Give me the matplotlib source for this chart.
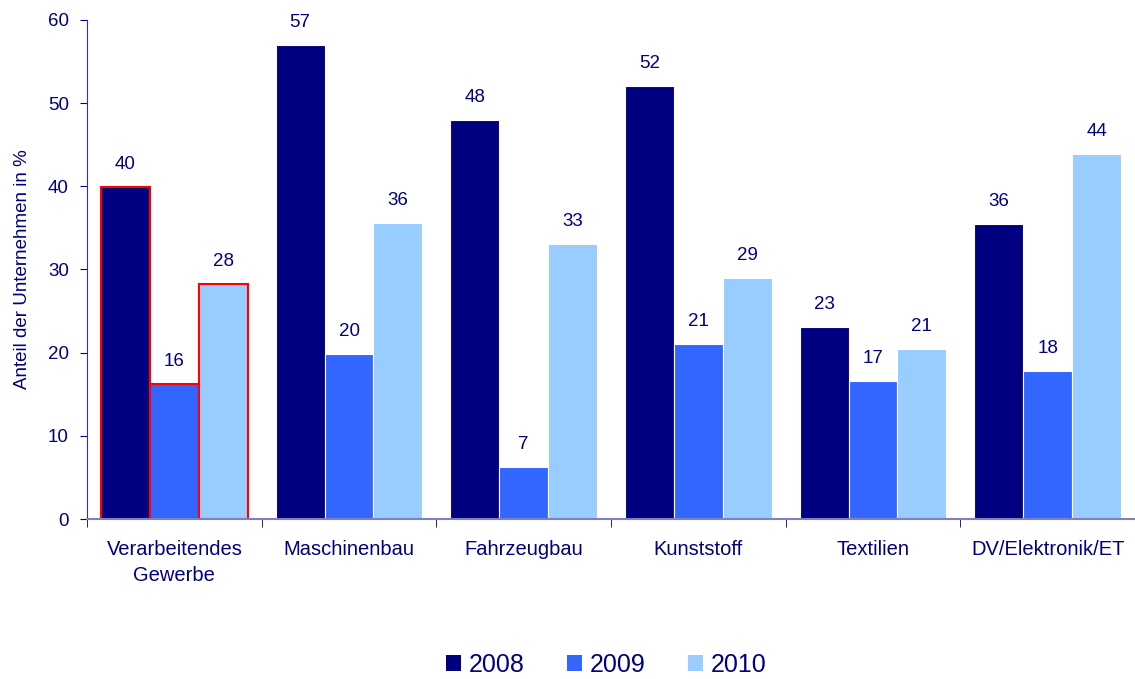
import numpy as np
import matplotlib.pyplot as plt
from matplotlib.patches import Patch

plt.rcParams['font.family'] = ['Liberation Sans', 'DejaVu Sans']

categories = ["Verarbeitendes\nGewerbe", "Maschinenbau", "Fahrzeugbau",
              "Kunststoff", "Textilien", "DV/Elektronik/ET"]
years = ["2008", "2009", "2010"]
v2008 = [39.9, 57.0, 48.0, 52.1, 23.1, 35.5]
v2009 = [16.2, 19.8, 6.3, 21.0, 16.6, 17.8]
v2010 = [28.3, 35.6, 33.1, 29.0, 20.4, 43.9]
labels2008 = [40, 57, 48, 52, 23, 36]
labels2009 = [16, 20, 7, 21, 17, 18]
labels2010 = [28, 36, 33, 29, 21, 44]

colors = ["#000080", "#3366FF", "#99CCFF"]
navy = "#000080"

fig = plt.figure(figsize=(11.35, 6.79), dpi=100)
ax = fig.add_axes([0.0767, 0.2356, 0.9233, 0.735])

x = np.arange(len(categories))
w = 0.28
series = [v2008, v2009, v2010]
labs = [labels2008, labels2009, labels2010]
for i, (vals, lab) in enumerate(zip(series, labs)):
    pos = x + (i - 1) * w
    bars = ax.bar(pos, vals, w, color=colors[i], edgecolor="white",
                  linewidth=0.8)
    # first group is highlighted with a red frame
    bars[0].set_edgecolor("red")
    bars[0].set_linewidth(1.5)
    for b, l in zip(bars, lab):
        ax.annotate(str(l), (b.get_x() + b.get_width() / 2, b.get_height()),
                    xytext=(0, 10), textcoords="offset points",
                    ha="center", va="bottom", fontsize=13.5, color=navy)

ax.set_xlim(-0.5, len(categories) - 0.5)
ax.set_ylim(0, 60)
ax.set_yticks(range(0, 61, 10))
ax.set_xticks(x)
ax.set_xticklabels(categories, linespacing=1.5)
ax.set_xticks(np.arange(-0.5, len(categories), 1.0), minor=True)
ax.tick_params(axis="x", which="major", length=0, pad=15, labelsize=14.5,
               labelcolor=navy)
ax.tick_params(axis="x", which="minor", length=6, color=navy, direction="out")
ax.tick_params(axis="y", length=5, color=navy, labelsize=13.5, labelcolor=navy,
               pad=8)

for s in ["top", "right"]:
    ax.spines[s].set_visible(False)
ax.spines["left"].set_color("#333399")
ax.spines["bottom"].set_color("#8080C0")
ax.spines["bottom"].set_linewidth(1.5)

ax.set_ylabel("Anteil der Unternehmen in %", fontsize=13.5, color=navy, labelpad=12)

handles = [Patch(facecolor=c, edgecolor="none") for c in colors]
fig.legend(handles, years, loc="lower center", bbox_to_anchor=(0.534, -0.03), ncol=3,
           frameon=False, fontsize=18, labelcolor=navy, handlelength=0.6,
           handleheight=0.6, columnspacing=1.7, handletextpad=0.3)

fig.savefig("out.png", dpi=100)
